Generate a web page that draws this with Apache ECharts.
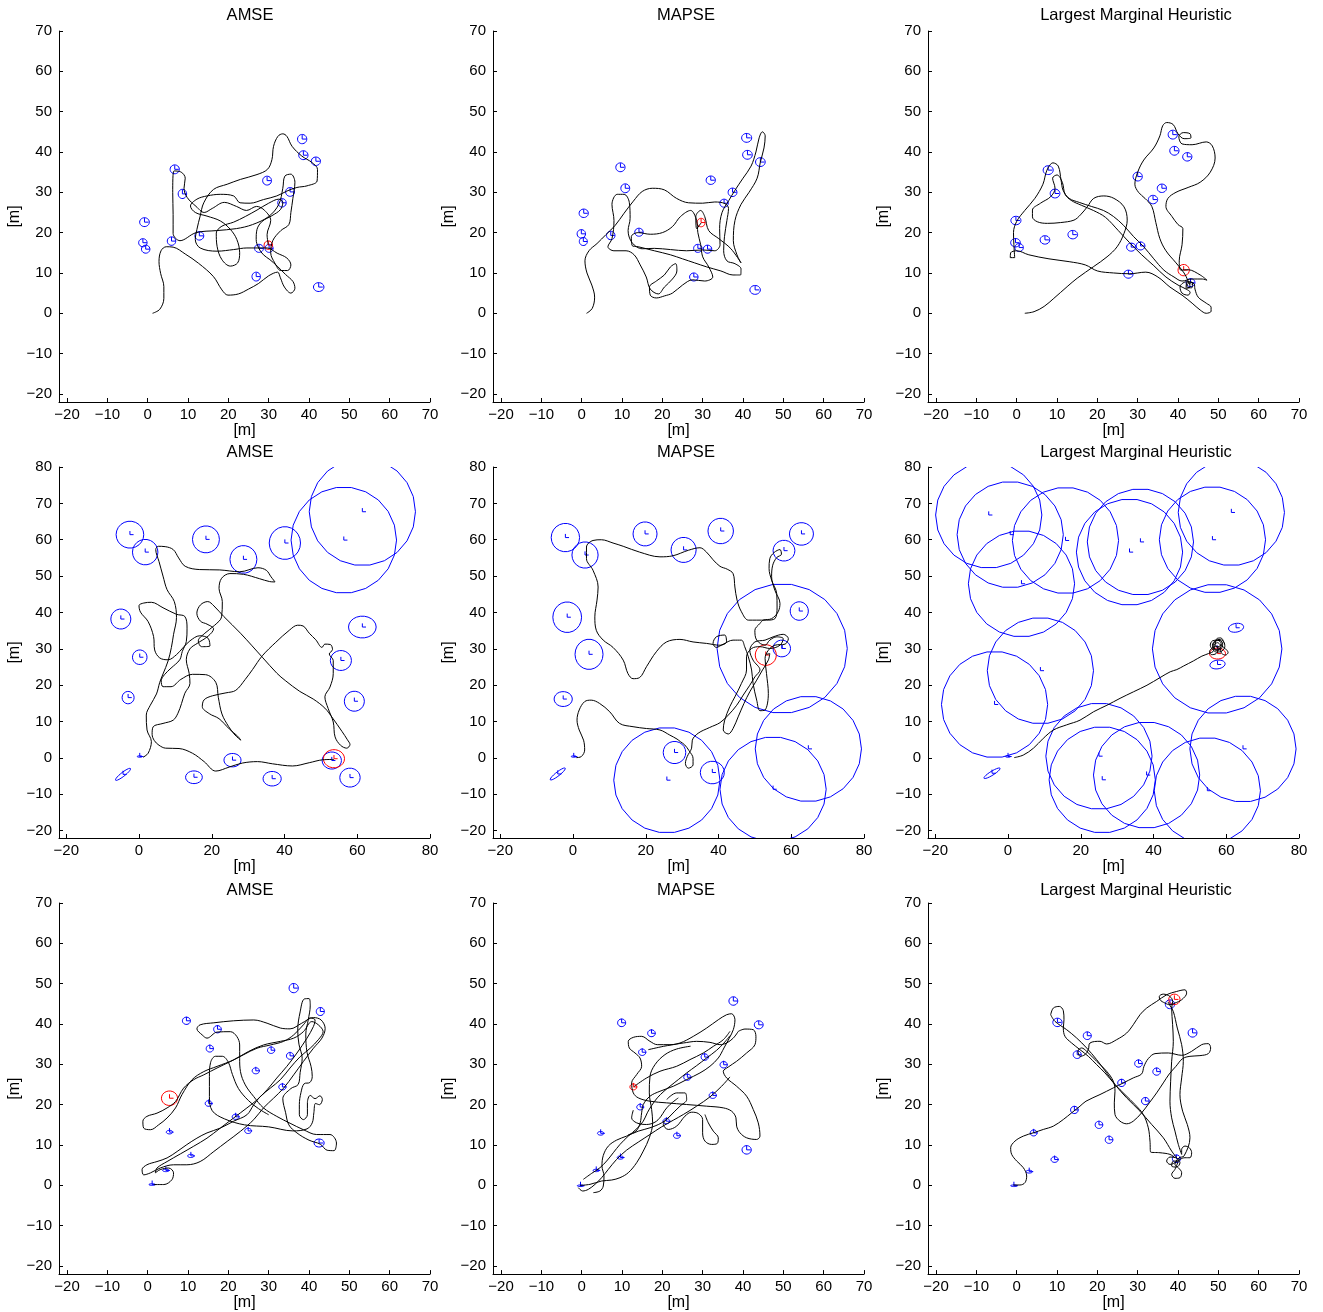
<!DOCTYPE html>
<html><head><meta charset="utf-8">
<script src="https://cdn.jsdelivr.net/npm/echarts@6/dist/echarts.min.js"></script>
<style>html,body{margin:0;padding:0;background:#fff}#c{width:1323px;height:1312px}</style>
</head><body><div id="c"></div>
<script>
// ---------- tick labels ----------
const ticks70 = [-20,-10,0,10,20,30,40,50,60,70];
const ticks80y = [-20,-10,0,10,20,30,40,50,60,70,80];
const ticks80x = [-20,0,20,40,60,80];
const titles = ['AMSE','MAPSE','Largest Marginal Heuristic'];

// ---------- landmarks: [cx, cy, rx, ry, angleDeg] ----------
const lm_r1c1 = [[38.3,43.2,1.15,1.15,0],[38.6,39.2,1.15,1.1,0],[41.7,37.7,1.15,1.05,0],[6.7,35.7,1.15,1.1,0],[29.6,32.9,1.1,1.1,0],[8.6,29.6,1.05,1.15,0],[35.3,30.1,1.1,1.1,0],[33.3,27.4,1.05,1.05,0],[-0.8,22.6,1.2,1.1,0],[-1.2,17.5,1.05,1.0,0],[-0.5,15.9,1.05,1.0,0],[5.9,17.9,1.05,1.05,0],[12.8,19.2,1.1,1.05,0],[27.6,16.1,1.1,1.0,0],[30.1,16.1,1.0,1.0,0],[26.9,9.1,1.05,1.1,0],[42.4,6.5,1.3,1.1,0]];
const red_r1c1 = [[29.9,16.9,1.05,1.05,0]];
const lm_r1c2 = [[40.9,43.5,1.25,1.1,0],[41.1,39.3,1.2,1.1,0],[44.3,37.5,1.2,1.1,0],[9.6,36.2,1.15,1.1,0],[10.8,31.0,1.1,1.1,0],[32.0,33.0,1.15,1.05,0],[37.4,30.0,1.1,1.05,0],[35.3,27.3,1.05,1.0,0],[0.5,24.8,1.15,1.05,0],[-0.1,19.7,1.05,1.05,0],[0.4,17.8,1.0,1.0,0],[7.2,19.3,1.05,1.05,0],[14.2,20.1,1.05,1.0,0],[28.8,16.1,1.05,1.0,0],[31.2,15.9,1.05,1.0,0],[27.8,9.0,1.05,1.0,0],[43.0,5.8,1.3,1.1,0]];
const red_r1c2 = [[29.6,22.5,1.0,1.05,0]];
const lm_r1c3 = [[38.7,44.3,1.15,1.1,0],[39.1,40.3,1.15,1.1,0],[42.3,38.8,1.15,1.05,0],[7.8,35.5,1.25,1.1,0],[9.5,29.7,1.2,1.1,0],[30,33.9,1.15,1.1,0],[36,31,1.15,1.05,0],[33.8,28.2,1.15,1.05,0],[-0.2,23,1.25,1.05,0],[-0.3,17.5,1.2,1.05,0],[0.6,16.3,1.05,1.0,0],[7,18.2,1.2,1.05,0],[13.9,19.5,1.2,1.05,0],[28.4,16.4,1.15,1.0,0],[30.7,16.7,1.1,1.0,0],[27.7,9.7,1.15,1.0,0],[43.1,7.6,1.1,1.0,0]];
const red_r1c3 = [[41.4,10.7,1.4,1.4,0]];

const lm_r2c1 = [[-2.5,61.4,3.8,3.7,0],[1.7,56.6,3.5,3.5,0],[18.4,60.1,3.7,3.7,0],[28.7,54.6,3.7,3.8,0],[40.1,59.1,4.3,4.5,0],[56.3,59.9,14.5,14.6,0],[61.4,67.7,14.6,14.8,0],[-5,38.2,2.75,2.75,0],[0.2,27.7,2.0,2.0,0],[-3,16.6,1.65,1.7,0],[61.4,36,3.8,3.0,0],[55.5,26.8,2.9,2.75,0],[59.2,15.6,2.75,2.75,0],[25.7,-0.6,2.35,1.85,0],[15.1,-5.3,2.3,1.75,0],[36.6,-5.7,2.5,2.0,0],[58,-5.4,2.8,2.6,0],[53.0,-0.7,2.65,2.35,0],[-4.4,-4.5,2.6,0.55,38],[0.2,0.4,0.7,0.2,0]];
const red_r2c1 = [[53.6,-0.2,2.9,2.5,0]];
const lm_r2c2 = [[-2.1,60.6,3.9,3.9,0],[3.3,55.8,3.6,3.6,0],[19.8,61.6,3.3,3.3,0],[30.4,57.2,3.45,3.45,0],[40.6,62.4,3.5,3.5,0],[62.8,61.6,3.3,3.1,0],[58,57,3.0,2.85,0],[-1.6,38.7,3.95,4.2,0],[4.4,28.5,3.85,4.15,0],[-2.7,16.2,2.5,2.05,0],[62.2,40.4,2.5,2.55,0],[57.4,30.1,2.4,2.3,0],[57.5,30.1,17.9,17.8,0],[64.7,2.5,14.6,14.5,0],[55,-8.6,14.6,14.4,0],[25.8,-6.1,14.6,14.5,0],[27.9,1.5,3.1,3.05,0],[38.3,-4,3.3,3.1,0],[-4.2,-4.4,2.6,0.55,38],[0.2,0.4,0.7,0.2,0]];
const red_r2c2 = [[53,28.3,2.9,2.85,0]];
const lm_r2c3 = [[-5.3,66.8,14.6,14.6,0],[0.6,61.4,14.6,14.6,0],[15.8,59.8,14.6,14.6,0],[3.7,47.9,14.6,14.6,0],[33.4,56.6,14.6,14.6,0],[36.4,59.4,14.6,14.6,0],[56.2,60,14.6,14.6,0],[61.4,67.5,14.6,14.6,0],[8.9,24,14.6,14.6,0],[-3.7,14.7,14.6,14.6,0],[57.5,30,17.8,17.8,0],[25,0.5,14.6,14.6,0],[25.9,-6,14.6,14.6,0],[38.1,-4.7,14.6,14.6,0],[64.6,2.5,14.6,14.6,0],[54.8,-9,14.6,14.6,0],[62.7,35.8,2.1,1.2,10],[57.6,25.7,2.1,1.2,8],[-4.4,-4.2,2.6,0.55,32],[0,0.4,0.7,0.2,0]];
const red_r2c3 = [[57.6,28.7,2.2,1.5,0]];

const lm_r3c1 = [[36.2,48.9,1.15,1.15,0],[42.8,43.1,1.0,1.0,0],[9.6,40.8,1.0,0.9,0],[17.3,38.7,0.95,0.9,0],[15.4,33.9,0.9,0.85,0],[30.6,33.5,0.9,0.8,0],[35.3,32.1,0.9,0.85,0],[26.8,28.4,0.9,0.75,0],[33.4,24.4,0.9,0.75,0],[15.1,20.3,0.85,0.7,0],[21.8,17,0.85,0.65,0],[5.4,13.2,0.8,0.45,0],[24.9,13.5,0.85,0.65,0],[42.5,10.5,1.25,1.0,0],[10.7,7.3,0.8,0.4,0],[4.5,3.7,0.8,0.3,0],[1.1,0.2,0.8,0.2,0]];
const red_r3c1 = [[5.4,21.6,2.0,1.8,0]];
const lm_r3c2 = [[37.6,45.7,1.1,1.05,0],[43.9,39.8,1.1,1.0,0],[9.9,40.3,1.0,0.95,0],[17.3,37.7,0.95,0.85,0],[15,33,0.9,0.8,0],[30.5,31.8,0.9,0.8,0],[35.2,29.9,0.9,0.8,0],[26.2,26.8,0.9,0.75,0],[32.5,22.3,0.9,0.75,0],[14.5,19.4,0.85,0.7,0],[21,15.9,0.85,0.65,0],[4.7,12.9,0.8,0.45,0],[23.6,12.3,0.85,0.65,0],[40.9,8.8,1.15,1.05,0],[9.6,6.9,0.8,0.4,0],[3.6,3.7,0.8,0.3,0],[-0.3,-0.1,0.8,0.2,0]];
const red_r3c2 = [[12.8,24.4,0.85,0.75,0]];
const lm_r3c3 = [[38,44.9,1.15,1.1,0],[43.6,37.8,1.1,1.05,0],[10.1,40.4,1.15,1.05,0],[17.5,37.1,1.0,0.95,0],[15,32.4,1.0,0.95,0],[30.2,30.2,0.95,0.9,0],[34.7,28.2,0.95,0.9,0],[26,25.4,0.95,0.9,0],[31.9,20.9,0.95,0.9,0],[14.3,18.7,0.95,0.9,0],[20.4,15,0.95,0.9,0],[22.9,11.3,0.95,0.9,0],[4.2,13,0.85,0.75,0],[9.4,6.4,0.9,0.7,0],[3.1,3.4,0.8,0.35,0],[-0.7,-0.1,0.8,0.2,0],[39.6,6.6,1.0,0.95,0]];
const red_r3c3 = [[39.1,46.1,1.4,1.3,0]];

// ---------- robot trajectories (each panel: list of traced strands) ----------
const traj_r1c1 = [[[1.2,0],[3,1],[4,3.7],[4,6.6],[3.2,9.9],[2.8,12.8],[3.3,15.5],[4.6,16.5],[6.3,16.4],[9.3,14.7],[12.6,12.4],[16.3,9.1],[18.4,5.8],[19.9,4.5],[22.5,4.8],[25,6],[27.5,7.4],[30,9.3],[32.2,10.2],[32.9,8.8],[33.9,6.5],[35.5,5],[36.5,6.2],[36,7.9],[34.2,9.6],[32.1,11.7],[30.3,13.3],[28.7,14.5],[27.5,16.2],[26.9,18.3],[27.1,20.8],[28.4,22.8],[30.8,24.2],[32.9,25.7],[33.5,27.5],[32.5,28.3],[30,27.3],[27.1,25.6],[24.2,24],[21.3,22.6],[18.4,21.6],[17,19.9],[17.2,16.6],[18.4,13.3],[20.5,11.7],[22.3,12.5],[22.8,15],[22.1,18.3],[20.5,20.8],[18,22.9],[14.7,24.1],[11.8,25],[10.6,26.6],[12.2,28.3],[14.7,29.1],[18,29.5],[21.3,29.1],[22.9,27.4],[25.4,27.3],[28.7,28.2],[32,29.1],[34.5,30.3],[37,31.2],[39.5,31.6],[42,32.8],[42.1,35.7],[40.7,37.4],[38.2,39],[35.8,41.4],[34.5,43.9],[33.5,44.5],[32.3,43.9],[31.2,41.4],[30.8,38.1],[29.7,35.7],[27.1,34.4],[23,33.2],[19.7,32],[16.3,30.7],[13.9,27.4],[13,24.1],[12.2,20.8],[11.8,18.3],[13,16.2],[17.2,15.4],[21.3,15.8],[24.6,16.2],[27.1,16.2],[29.6,16.2],[32.1,14.9],[34.5,13.7],[35.5,12],[34.7,10.6],[33,10.6],[31.5,12.5],[30.5,15],[31,18],[33,20.5],[35,22],[35.5,25],[36,28.5],[36.5,32.5],[35.5,34.5],[34,34],[33.5,31],[32.5,27],[30,24],[26,22],[22,21],[17,20.5],[12,20],[8,18],[6.3,19.8],[6.3,24.5],[6.2,30],[6.5,35.3],[8.3,35],[9.3,33.5],[9,31],[9.8,28.7],[12,26.5],[14,25],[16,26],[19,27.5],[22,26.5],[24.5,25.5],[27,26.5],[29,25.5],[30.5,23],[29.6,19.5],[29.9,17]]];
const traj_r1c2 = [[[1.2,0],[2.6,1.2],[3.2,4],[2.5,7],[1.3,10],[0.8,13],[1.8,15.5],[3.8,17.3],[6,19.5],[8.3,21.8],[10.5,24.8],[12.8,27.8],[15,30.2],[17.5,31],[20.5,30.6],[23.5,28.5],[26.5,27.4],[30,27.3],[33,27.6],[35.5,27.2],[36.4,26],[36,23],[35.4,19],[35.2,15.5],[36,13],[38,12.3],[39.5,11],[39.4,9.5],[37.5,9.5],[34.5,10.5],[31,11.5],[28,12.5],[25,13.5],[22,14.5],[18,15.5],[14,16.5],[12.5,16.8],[12.3,19],[14,20],[17,19.6],[20,20],[22.5,21.5],[24.5,24],[27,25.5],[28.5,23],[28.8,20],[29.5,17],[30,14],[31.5,11.5],[32.5,9],[30.5,8],[27.5,8.3],[25,7],[22.5,5],[20.5,4.3],[18.5,3.8],[17,4.5],[16.8,6.5],[18.5,8],[20.5,9.5],[22,11.5],[23.3,12.3],[23.6,10.5],[22.5,8.5],[20.5,6.5],[19,4.8],[17,6],[16,9],[14.5,12],[13,14.5],[11,15.5],[8,15.5],[6.5,16.5],[7.5,18.5],[8,23],[7.5,27],[8.8,29.5],[10.5,29.5],[11.8,27.5],[12,23.5],[11.5,20.5],[12.5,17.5],[15,16],[18,16.1],[22,15.8],[26,15.5],[30,15.7],[33,15.5],[34.3,17],[34.2,21],[34.8,25],[36.5,28],[38,30.5],[40,33.5],[42,36.5],[43.2,40],[44,43.5],[44.8,45],[45.5,44],[45.2,41],[44.3,37.5],[43.5,33.5],[41.5,30],[39.5,27],[38,23],[37.6,18],[38.5,14.5],[39.5,12.5],[37,16],[34,18.5],[31.5,20.5],[30.5,24],[29.5,25.5],[28.3,24],[28.5,21],[29.6,22.4]]];
const traj_r1c3 = [[[2,0],[4.3,0.4],[6.8,1.7],[9.2,3.7],[12.5,6.6],[15,8.7],[19.1,11.6],[22.4,14],[24.9,16.5],[26.6,19.8],[27.4,23.1],[26.6,26.4],[24.1,28.5],[21.6,29.1],[19.1,28.5],[17.5,26.4],[15.8,24.4],[14.2,23.1],[10.9,22.5],[7.6,22.3],[5.1,22.7],[3.9,23.9],[3.9,25.6],[5.9,27.3],[8.4,28.9],[9.5,31],[8.9,33.5],[10,34.3],[11.3,32.5],[12,29.5],[13.5,28],[16,26.8],[19,25.5],[22,23.8],[25.2,20.5],[28,17.5],[31,14.5],[34,11.8],[37,9],[40,7],[42,6],[43,5.2],[42.5,4.5],[41,5],[40.5,6.5],[42,7.8],[44,7.3],[44.2,6],[45,4],[47,2.5],[48.2,1.5],[48.2,0.5],[47,0],[45.5,0.8],[43.5,2.5],[41,4.5],[38,6.5],[35,9],[32,10.2],[28,9.8],[24,10],[20,10.5],[17,12],[13,12.8],[8,13.5],[3,14.5],[0,15.5],[-1.5,15],[-1.6,13.8],[-0.5,13.8],[-0.7,17],[-0.8,20],[0,22.8],[2,25.5],[4.5,28.5],[6.5,32],[7.5,35.5],[9,37.3],[10.3,36.5],[11,33],[11.5,30.5],[13,28.5],[15.5,27.5],[18.5,26.5],[21.5,25.5],[24,24],[26.5,21.8],[29,19],[31.5,16.5],[34,13.5],[36.5,10.7],[39,9],[41,8],[43.5,8.5],[46,8.5],[47.2,8.2],[45.5,9.5],[42.5,10.8],[40.7,10.7],[40.3,13],[41,17],[41.2,21],[40,22],[38.5,24],[37,26.5],[37.5,28.5],[39.5,30],[42.5,31.2],[45.5,32.5],[48,35],[49.2,38.5],[48.5,41.5],[47,42.5],[43.5,41.8],[41,42],[40.2,43.8],[41.3,44.8],[43,44.5],[43.2,43.5],[41.5,43.3],[40,44.5],[38.8,46.8],[37.2,47.3],[36.2,46.5],[35.5,44],[34,41],[31.5,38],[30,35],[29.3,32],[30.2,30],[31.8,28.5],[33.5,26.5],[34.5,22.5],[35.5,18.5],[37,15.5],[39.5,12.5],[41.5,10],[42.5,8],[43,6.5],[42,6.2],[42.3,7.8],[43.6,7.6],[43.4,6.3],[42.2,6.6],[42.6,7.5],[43.3,7.2]]];

const traj_r2c1 = [[[1.1,0.2],[2.5,1.3],[3.4,4.5],[2.2,7.7],[2,11.8],[3.1,14.5],[4.8,17.6],[5.7,20.8],[6.6,23.1],[8,26.7],[8.9,30.4],[9.5,34],[10.3,38.6],[9.7,43],[7.7,46.3],[6.6,50],[5.5,54],[4.6,57.3],[5.3,58.2],[7.2,58.1],[9.4,57.3],[10.9,55],[12.7,52.7],[16.7,51.8],[22.2,51.7],[27.7,51.2],[32.7,52.3],[35,51.6],[36.3,49.8],[37.4,48.4],[35.9,48.5],[33.1,49.3],[28.7,50.5],[25,50.7],[22.7,49.4],[22,46.6],[22.9,43],[22.7,38.8],[20.8,36.5],[18.1,34.3],[16.3,32.2],[17.2,30.6],[19.5,30.8],[19,32.9],[16.7,33.6],[14,32.2],[12,30.2],[10.3,28.4],[8,27],[5.7,27.5],[4.3,29.7],[4,33.4],[2.5,37.5],[0.4,40.1],[0,41.9],[1.3,42.6],[3.4,42.8],[6.6,41.3],[10.3,39.5],[12.6,38.9],[13.2,35.7],[13,32],[11.9,29.3],[11.2,27],[8.8,24.7],[7,22.9],[6.1,21.2],[6.6,19.6],[8.8,19.6],[11.5,21.6],[14.7,23],[18.3,22.9],[21.1,20.8],[21.8,16.7],[22.8,12.1],[24.6,8.7],[26.4,6.3],[28,4.9],[27.1,6],[24.8,8],[22,10.8],[19.3,12.2],[17.4,14.1],[17.9,16],[20.2,17.1],[23.9,17.9],[26.6,18.6],[29.2,21.6],[31.2,24.3],[33.9,28.1],[37.6,31.8],[41.3,35.1],[43.6,36.5],[45.1,36.3],[46.8,34.3],[48.6,32.5],[50.3,30.4],[51.1,31.3],[52.6,31.2],[53.2,29.8],[52.3,28.6],[53.4,26.8],[53.4,23.2],[52.5,19.5],[51.1,16.8],[52,13.6],[53.4,9.9],[53.9,5.8],[55.4,3.5],[57.1,2.7],[58,3.7],[57.3,5],[55.8,7.3],[53.2,11],[51.1,13.7],[47.9,16.2],[44.2,18.3],[40.2,21.3],[37.9,23.3],[33.9,27.7],[27.9,34.3],[23.3,38.9],[20.6,41.8],[18.9,43],[16.9,42.1],[15.9,39.8],[16.9,37.6],[18.7,36.8],[20.5,35.5],[19,33.5],[16,31.5],[14,30],[13,27],[13.8,23.2],[14,20.5],[12.6,17.8],[11.7,15],[10.7,12.3],[9.4,10.4],[6.6,9.5],[3.9,8.6],[3.6,6.5],[4.2,4.8],[5.5,3.5],[7.3,2.7],[11,2.6],[14.7,1.3],[17.9,-1],[21.1,-3.6],[24.8,-2.5],[28.4,-1.4],[32.6,-1],[36.7,-1.6],[42.2,-2.2],[46.8,-1.3],[50.5,-0.5],[53.6,-0.4]]];
const traj_r2c2 = [[[0.9,0.1],[2.3,0.4],[3.2,2.2],[2.9,4.9],[1.7,7.7],[1.1,10.4],[1.7,13.2],[3.2,15.5],[5,15.9],[7.3,15],[10.1,12.7],[12.8,9.5],[16.5,8.6],[20.2,8.1],[23.9,7.7],[26.6,6.3],[28.6,5.2],[29.5,4.5],[30.7,3.6],[31.9,2],[33,-0.1],[33,-1.9],[31.7,-2.8],[30.9,-1.5],[31.4,0.4],[32.6,2.7],[32.8,4.9],[34.4,6.8],[37.6,8.4],[40.4,9.7],[42.7,11.8],[45,14.5],[46.8,17.3],[48.6,20],[50,22.3],[51.4,24.2],[49.5,26.9],[48.6,29.6],[50,31.9],[52.8,32.4],[55,33.3],[57.8,34],[59.2,32.8],[58.3,31.3],[55.5,31],[53.7,29.6],[52.8,27.4],[53.2,23.2],[53.7,17.7],[52.8,13.2],[51.4,13],[50.5,15.9],[49.5,20.5],[49.1,24.2],[48.2,27.8],[47.2,30.6],[46.3,32.4],[44,32.4],[41.3,31.3],[39.4,30.4],[38.5,31.5],[39.4,33.3],[41.7,33.8],[42.2,31.9],[40.4,31],[36.7,31.5],[33,31.9],[29.4,32.6],[25.7,31.9],[22.9,29.2],[20.2,25.1],[18.3,22.1],[16.5,21.8],[15.1,23.2],[13.8,26.9],[11,30.4],[8.3,32.4],[6.4,35.1],[6,38.8],[6.6,43.4],[6.9,47],[5.5,51.6],[3.7,54.8],[3.7,58],[5.5,59.8],[7.8,60],[11,59.1],[13.8,58.2],[18.3,56.6],[23.9,55.3],[27.5,55.6],[31.7,57.1],[34.9,57.8],[36.7,56.6],[38.5,54.5],[40.4,52.7],[42.4,51.9],[44,50.7],[44.5,47],[45.1,43.4],[46.3,40.2],[48.2,37.9],[50.5,37.9],[53.2,37.9],[55.5,38.3],[56.1,41.5],[56,45.2],[54.6,48.9],[53.9,52.1],[54.1,54.8],[55.3,56.5],[56.9,57.3],[57.3,56],[56,55.1],[54.9,53],[54.6,49.8],[55.5,46.1],[56.9,42.5],[56.4,40.2],[54.6,38.3],[52.3,37.9],[51.4,37],[50,35.1],[50.5,32.4],[52.8,31],[54.1,32.4],[56,33.3],[57.8,32.8],[56.9,31],[54.1,30.1],[51.4,30.6],[49.1,30.1],[47.7,27.8],[47.7,24.2],[46.3,20.5],[44.5,16.8],[43.1,14.1],[41.7,10.4],[41.3,7.7],[42.7,6.6],[44,8.1],[45.4,11.3],[47,15],[48.6,18.2],[50.5,21.4],[52.1,24.2],[53.7,26.9],[54.1,28.7],[53.2,28.5]]];
const traj_r2c3 = [[[1.7,0.1],[4.2,0.8],[7,2.7],[9.7,5.4],[12.5,7.7],[16.1,9.1],[19.8,10.4],[23.5,12.7],[27.2,14.5],[30.8,16.4],[34.5,18.2],[38.2,20],[41.8,22.1],[44.6,23.7],[46.4,24.3],[48.3,25.3],[51,26.7],[53.3,28],[55.1,28.7],[56.5,29.5],[56.2,31],[57,32.2],[58.3,32.3],[59,31.2],[58.4,29.8],[57.2,29.6],[56.4,30.6],[56.8,31.9],[58,32.6],[59.3,32],[59.6,30.6],[58.8,29.4],[57.4,29.1],[56.3,29.8],[55.6,31],[56.2,32.2],[57.6,32.4],[58.6,31.4],[58.2,30],[57,29.8],[56.7,31],[57.6,31.7],[58.6,30.9],[59.8,30],[60.5,29],[59.8,28.3],[58.7,28.8],[58.3,30.1],[57.3,30.7],[56.1,30.2],[55.4,29.2],[56,28.4],[57.2,28.7],[57.8,29.9],[57,31.2],[57.4,32.8],[58.5,33],[59.2,32],[58.6,31],[57.5,30.5]]];

const traj_r3c1 = [[[1.5,0.2],[4,0.2],[6,1.4],[6.4,3.1],[5.2,4.3],[3.1,3.9],[1.9,3.1],[2.3,4.3],[4.8,5.9],[8.1,7.8],[11.4,9.7],[14.7,11.7],[18,14.2],[21.3,16.7],[24.6,19.2],[27.1,21.2],[29.6,23.7],[32,26.6],[34.5,29.5],[37,32.8],[39.5,36.5],[41.1,39.4],[41.5,41],[40.3,41.5],[38.6,39.8],[36.2,37.3],[33.7,35.7],[30.4,34.8],[27.1,34],[23.8,32.4],[20.5,30.7],[17.2,29.1],[13.9,27.4],[11.4,26.2],[8.9,24.1],[6.9,20.8],[4.8,19.2],[2.3,17.9],[-0.2,17.1],[-1.2,15.9],[-1,14.2],[0.7,13.8],[2.7,15],[4.8,16.7],[6.9,19.2],[8.5,22.5],[11,26.2],[13.9,28.2],[17.2,29.5],[21.3,31.1],[25,33.2],[28.7,34.8],[32.9,35.7],[36.2,36.5],[38.6,38.1],[40.7,40.6],[42.3,39.8],[43.5,38.1],[42.3,36.1],[40.3,34],[37.8,31.9],[35.3,29.1],[32.9,26.2],[30.4,24.1],[27.9,22],[26.3,20],[24.6,17.5],[21.3,15.9],[18,14.2],[14.7,13],[12.2,11.7],[9.7,10.1],[7.3,8.4],[4.8,6.8],[2.3,5.9],[-0.2,5.1],[-1.4,3.9],[-1,2.6],[0.7,3.1],[3.1,4.3],[6.4,5.1],[9.7,5.1],[13,5.9],[16.4,8.4],[19.7,10.9],[23,13.4],[26.3,16.3],[28.7,19.2],[31.2,21.6],[33.7,24.1],[36.2,27.4],[38.6,30.7],[41.1,34],[43.2,36.5],[44,38.9],[43,41],[41.1,41.6],[38.2,40.2],[35.3,38.8],[32.9,39],[29.6,40.2],[26.3,41],[21.3,40.8],[16.4,40.3],[13,39.8],[12.2,38.8],[13.5,37.3],[14.7,36.5],[17.2,38],[20.5,38.1],[22.1,36.9],[22.8,34.8],[22.8,31.5],[23,28.2],[24.2,24.9],[26.3,22],[28.7,19.2],[32,17.1],[35.3,15.4],[38.6,13.8],[41.9,12.6],[45.2,12.6],[46.8,10.5],[46.2,8.6],[44.5,8.7],[42.8,10.2],[40,11.2],[37,13],[35,15],[34.2,18],[33.5,21.5],[35.5,24],[37.3,25],[37.8,28],[38.3,31.5],[37.5,35],[37.2,38.5],[37.8,43],[38.8,46.2],[40,46.3],[40.3,44.5],[39.8,41],[39.2,37.5],[39.5,33],[40.5,29.5],[40.8,27],[40.2,25.5],[38.8,25.2],[38,23],[37.6,20],[37.6,17.5],[38.6,16.3],[39.6,17.5],[39.6,20.5],[40.3,22.3],[41.5,21.5],[42.7,22.2],[43.3,21.3],[42.6,20],[41.6,20.3],[41.2,18],[40.8,15.5],[39.5,14],[36,13.5],[30,14.5],[24,15],[19,16.5],[16,18.5],[15.3,22],[15.3,27],[15.6,30.5],[16.8,32],[18.5,32],[20,30.5],[21,27.5],[22.5,24],[25,21],[27.5,19],[30,17.5]]];
const traj_r3c2 = [
  [[38.83,38.18],[40.48,38.75],[42.54,38.59],[43.2,36.94],[42.96,34.88],[40.89,32.82],[38.41,30.76],[36.35,29.35],[35.11,28.28],[35.93,26.63],[38.41,24.57],[40.89,22.1],[42.54,18.8],[43.78,15.5],[44.2,12.21],[43.37,11.38],[40.89,11.79],[39.24,13.03],[38.41,14.68],[38.25,16.74],[37.17,18.39],[35.11,19.21],[30.98,19.63],[26.02,20.04],[21.06,20.45],[16.93,20.86],[14.03,21.69],[12.79,22.92],[12.38,25.4],[13.62,27.46],[14.86,29.52],[14.45,31.58],[13.21,32.82],[11.8,34.05],[11.55,35.7],[12.79,36.69],[14.86,36.94],[16.93,35.7],[18.74,34.88],[21.88,34.88],[25.19,35.29],[28.5,35.7],[31.8,35.45],[34.28,34.88],[35.93,35.29],[37.59,36.52],[38.83,38.18]],
  [[16.51,33.64],[20.23,34.46],[24.36,35.29],[27.67,36.94],[30.98,39],[33.87,41.06],[35.93,42.3],[37.17,42.54],[38,41.06],[37.59,38.59],[36.6,36.52],[35.27,34.05],[33.87,31.58],[31.8,29.52],[29.32,27.87],[26.02,26.22],[22.71,24.57],[19.4,23.33],[16.93,22.1],[15.27,20.04],[14.86,17.98],[14.5,15.5],[13.5,13.5],[11.5,12.5]],
  [[12.96,24.49],[16.1,26.63],[19.4,28.28],[23.54,29.52],[26.84,31.17],[30.15,32.82],[32.63,34.46],[35.11,36.11],[36.76,38.18]],
  [[21.06,21.27],[23.54,22.92],[25.6,22.92],[26.02,21.27],[24.36,19.63],[21.88,17.15],[20.23,15.09],[21.47,13.86],[23.54,14.68],[25.6,17.15],[27.26,18.14],[28.91,17.81],[29.98,16.33],[29.98,13.03],[30.56,10.97],[32.21,10.15],[33.62,10.4],[33.87,11.79],[32.63,13.44],[31.39,15.5],[30.56,17.56]],
  [[-0.43,0],[2.05,0.25],[4.94,1.08],[7.42,1.32],[9.49,1.9],[11.55,3.14],[13.62,5.61],[15.27,8.5],[16.76,11.79],[17.59,15.5],[17.34,18.8],[16.76,22.92],[16.93,27.04],[18.17,29.93],[20.64,32.41],[23.54,33.8],[27,34.5]],
  [[-0.84,-0.57],[0.23,-1.4],[1.64,-0.99],[3.29,0.25],[4.94,1.9],[6.59,3.96],[8.66,6.44],[11.14,8.74],[14.03,10.72],[16.93,12.62],[19.82,14.51],[22.71,16.16],[25.19,17.56],[28.5,19.63],[31.8,21.93],[34.69,24.57],[36.76,26.88]],
  [[2.88,-1.81],[4.53,-1.4],[5.35,-0.16],[5.52,2.31],[5.02,4.79],[5.35,7.42],[6.59,9.73],[8.66,11.22],[11.14,12.21],[14.03,13.44],[16.93,14.27],[19.82,15.5],[21.88,17.15]],
  [[0.4,1.49],[2.46,2.97],[4.53,4.38],[6.18,6.03],[7.83,8.09],[9.49,10.15],[11.55,12.21],[13.62,14.02],[15.27,15.92],[16.26,17.98],[17.34,19.79],[18.74,21.69],[20.4,23.33],[21.88,24.57],[23.95,26.22],[26.02,27.87],[28.5,29.68],[30.98,31.58],[33.45,33.48],[35.27,35.29],[36.76,37.1]],
  [[12.79,18.64],[12.38,16.74],[13.62,15.5],[16.1,15.09],[18.17,15.67],[19.57,16.99],[20.64,18.64],[21.88,20.04],[23.95,21.69]]
];
const traj_r3c3 = [
  [[-0.84,0.09],[0.81,0.09],[2.05,0.67],[2.47,2.32],[1.64,4.38],[-0.01,6.03],[-1.25,7.68],[-1.5,9.32],[-0.43,10.97],[1.64,12.21],[4.12,13.03],[6.6,13.86],[9.08,14.68],[11.56,16.33],[13.62,17.98],[15.69,19.63],[17.18,20.87],[20.65,22.51],[23.95,24.16],[26.43,25.4],[28.91,26.64],[30.98,27.63],[31.56,29.52],[32.63,31.42],[34.29,32.66],[37.59,32.82],[40.9,32.24],[43.38,33.23],[45.86,34.88],[47.51,35.13],[48.09,34.06],[47.51,32.66],[45.44,32.16],[42.96,31.99],[41.14,31.42],[39.49,29.52],[37.84,27.63],[36.35,25.4],[34.7,22.93],[32.88,20.45],[30.98,17.98],[28.91,15.92],[27.26,15.26],[25.61,15.92],[24.37,17.57],[24.2,20.45],[24.37,23.34],[23.95,25.81],[22.3,28.29],[19.82,30.76],[17.34,33.23],[16.1,34.06],[15.2,33.3],[15.69,31.99],[16.93,32.41],[17.76,33.64],[18.17,35.29],[20.65,35.71],[22.3,35.05],[24.78,36.12],[27.26,37.76],[28.91,39.83],[30.57,42.3],[32.22,43.95],[34.7,45.6],[37.18,47.25],[39.66,48.07],[41.72,48.48],[42.14,47.66],[40.9,46.01],[39.24,45.19],[38,44.77],[36.76,45.19],[35.52,46.01],[35.36,46.83],[36.35,47.41],[38,46.83],[38.66,45.6],[38.42,43.95],[38.66,39.83],[38.83,35.71],[38.42,30.76],[38.17,25.81],[38,20.87],[38.42,16.74],[39.24,13.45],[40.07,10.15],[40.9,7.68],[40.9,8.91],[41.72,9.74],[42.8,9.32],[43.38,8.09],[42.96,6.85],[41.72,6.85],[40.48,6.44],[39.24,5.61],[38,5.2],[37.18,6.03],[38,7.02],[39.49,6.85],[40.48,5.61],[39.66,4.54],[38.42,4.79],[38.83,6.03],[40.07,6.03],[39.24,3.97],[38.42,2.73],[39.24,1.74],[40.48,1.9],[40.9,3.14],[40.07,4.38],[39.24,5.2],[40.2,6.8],[41.5,7.3],[42.96,11.8],[42.3,15.1],[41.14,18.39],[40.48,22.51],[40.9,26.64],[41.31,30.76],[40.9,34.88],[39.82,39],[38.83,43.12],[38,44.6],[37.5,45.5]],
  [[8.42,42.3],[9.08,43.95],[10.57,44.36],[11.56,43.29],[11.72,41.06],[11.56,39],[11.97,36.94],[13.62,35.29],[15.69,33.64],[17.76,31.99],[19.82,29.93],[21.89,27.87],[24.37,24.99],[26.85,22.51],[29.33,20.04],[31.39,17.57],[32.63,14.27],[33.05,10.97],[33.21,8.25],[35.52,8.09],[38,7.68],[39.24,6.85]],
  [[8.42,42.3],[9.49,40.65],[12.38,38.59],[14.86,36.53],[17.34,34.06],[19.82,31.17],[22.3,27.87],[24.37,24.99],[27.26,21.69],[30.57,18.39],[33.46,15.1],[36.35,11.8],[38.42,8.5],[39.66,6.85]]
];

// ---------- layout ----------
const FONT = '"Liberation Sans", Arial, Helvetica, sans-serif';
const colLeft = [59, 493, 928];
const rowTop = [31, 467, 903];
const rowH = [371, 371, 372];
const gridW = 371;
const titleX = [250, 686, 1136];
const titleY = [15.5, 452, 890.5];
const LS = 1.0; // landmark glyph size in data units

const panels = [
  {r:0,c:0,traj:traj_r1c1,lm:lm_r1c1,red:red_r1c1},
  {r:0,c:1,traj:traj_r1c2,lm:lm_r1c2,red:red_r1c2},
  {r:0,c:2,traj:traj_r1c3,lm:lm_r1c3,red:red_r1c3},
  {r:1,c:0,traj:traj_r2c1,lm:lm_r2c1,red:red_r2c1},
  {r:1,c:1,traj:traj_r2c2,lm:lm_r2c2,red:red_r2c2},
  {r:1,c:2,traj:traj_r2c3,lm:lm_r2c3,red:red_r2c3},
  {r:2,c:0,traj:traj_r3c1,lm:lm_r3c1,red:red_r3c1},
  {r:2,c:1,traj:traj_r3c2,lm:lm_r3c2,red:red_r3c2},
  {r:2,c:2,traj:traj_r3c3,lm:lm_r3c3,red:red_r3c3}
];

const fmt = v => String(v).replace('-', '\u2212');

function ellipseRenderer(color){
  return function(params, api){
    const cx=api.value(0), cy=api.value(1), rx=api.value(2), ry=api.value(3), a=api.value(4)*Math.PI/180;
    const N=22, pts=[];
    for(let k=0;k<=N;k++){
      const t=2*Math.PI*k/N, ex=rx*Math.cos(t), ey=ry*Math.sin(t);
      pts.push(api.coord([cx+ex*Math.cos(a)-ey*Math.sin(a), cy+ex*Math.sin(a)+ey*Math.cos(a)]));
    }
    const p0=api.coord([cx,cy]), pu=api.coord([cx,cy+LS]), pr=api.coord([cx+LS,cy]);
    return {type:'group', children:[
      {type:'polyline', shape:{points:pts}, style:{stroke:color, fill:null, lineWidth:1}},
      {type:'polyline', shape:{points:[pu,p0,pr]}, style:{stroke:color, fill:null, lineWidth:1}}
    ]};
  };
}

const grid=[], xAxis=[], yAxis=[], series=[], graphic=[];
panels.forEach((p,i)=>{
  const big = p.r===1;
  const max = big ? 80 : 70;
  grid.push({left:colLeft[p.c], top:rowTop[p.r], width:gridW, height:rowH[p.r]});
  const xt = big ? ticks80x : ticks70;
  const yt = big ? ticks80y : ticks70;
  const common = {
    type:'value', gridIndex:i, min:-22, max:max, splitLine:{show:false},
    axisLine:{show:true, onZero:false, lineStyle:{color:'#000', width:1}},
    name:'[m]', nameLocation:'middle',
    nameTextStyle:{fontFamily:FONT, fontSize:16, color:'#000'}
  };
  xAxis.push(Object.assign({}, common, {
    position:'bottom', nameGap:15,
    axisTick:{show:true, inside:true, length:4, customValues:xt, lineStyle:{color:'#000'}},
    axisLabel:{customValues:xt, formatter:fmt, color:'#000', fontSize:15, fontFamily:FONT, margin:5}
  }));
  yAxis.push(Object.assign({}, common, {
    position:'left', nameGap:34,
    axisTick:{show:true, inside:true, length:4, customValues:yt, lineStyle:{color:'#000'}},
    axisLabel:{customValues:yt, formatter:fmt, color:'#000', fontSize:15, fontFamily:FONT, margin:7}
  }));
  series.push({type:'custom', xAxisIndex:i, yAxisIndex:i, data:p.lm, renderItem:ellipseRenderer('#0000ff'), clip:true, silent:true, encode:{x:0,y:1}});
  p.traj.forEach(strand => {
    series.push({type:'line', xAxisIndex:i, yAxisIndex:i, data:strand, symbol:'none', smooth:0.35, clip:true, silent:true, lineStyle:{color:'#000', width:1}});
  });
  series.push({type:'custom', xAxisIndex:i, yAxisIndex:i, data:p.red, renderItem:ellipseRenderer('#ff0000'), clip:true, silent:true, encode:{x:0,y:1}, z:3});
  graphic.push({type:'text', x:titleX[p.c], y:titleY[p.r], style:{text:titles[p.c], textAlign:'center', textVerticalAlign:'middle', font:'16.5px ' + FONT, fill:'#000'}});
});

const chart = echarts.init(document.getElementById('c'), null, {renderer:'canvas'});
chart.setOption({animation:false, backgroundColor:'#fff', grid, xAxis, yAxis, series, graphic});
</script></body></html>
